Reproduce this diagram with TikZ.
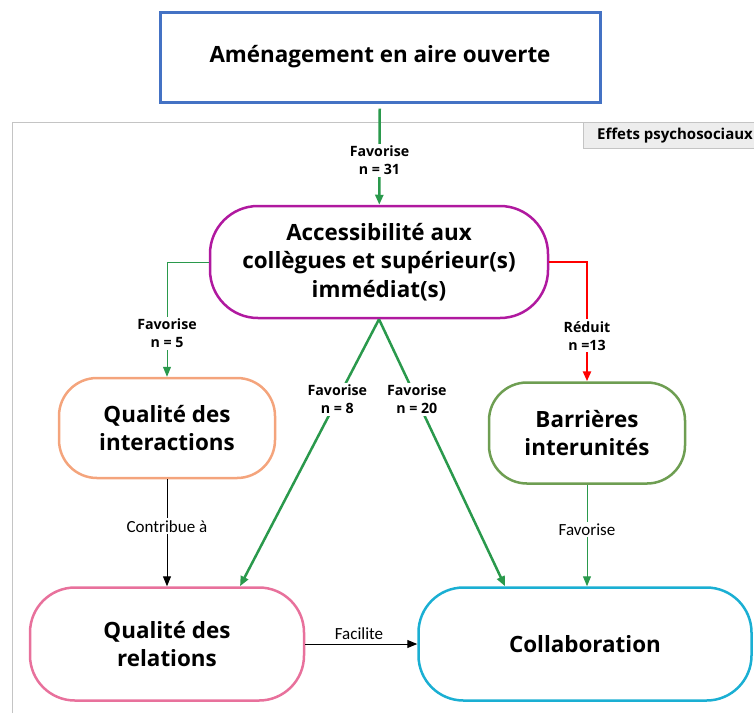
\documentclass[tikz,border=0pt]{standalone}
\usepackage{fontspec}
\setmainfont{Open Sans}
\newfontfamily\thinfont{Carlito}
\usetikzlibrary{arrows.meta}

\definecolor{amenblue}{HTML}{4472C4}
\definecolor{accpurple}{HTML}{B0199F}
\definecolor{interorange}{HTML}{F4A47C}
\definecolor{barrgreen}{HTML}{6E9E52}
\definecolor{relpink}{HTML}{E8719C}
\definecolor{collabcyan}{HTML}{1AAFD3}
\definecolor{linkgreen}{HTML}{2A994C}
\definecolor{framegray}{HTML}{C4C4C4}

\begin{document}
\begin{tikzpicture}[
	x=1pt, y=-1pt,
	concept/.style={draw, line width=2.5pt, align=center, font=\bfseries\fontsize{22.4}{28.5}\selectfont},
	effect/.style={fill=white, text=black, inner sep=2pt, align=center, font=\bfseries\fontsize{14.2}{18}\selectfont},
	plain/.style={fill=white, text=black, inner sep=2pt, font=\thinfont\fontsize{17}{18}\selectfont},
	tip/.style={-{Triangle[length=10pt,width=8pt]}}
	]
	\useasboundingbox (0,0) rectangle (754,713);

	% cadre des effets
	\draw[framegray, line width=1pt] (12,713) -- (12,122) -- (754,122);
	\draw[framegray, fill=black!7] (583,148) rectangle (760,122);
	\node[anchor=west, inner sep=0pt, font=\bfseries\fontsize{15}{16}\selectfont] (effets) at (597,135.5) {Effets psychosociaux};

	% les concepts
	\node[concept, draw=amenblue, line width=3pt, minimum width=440pt, minimum height=90pt] (amen) at (380,57)
		{Aménagement en aire ouverte};
	\node[concept, draw=accpurple, rounded corners=48pt, minimum width=338pt, minimum height=112pt] (access) at (379,262)
		{Accessibilité aux\\collègues et supérieur(s)\\immédiat(s)};
	\node[concept, draw=interorange, rounded corners=38pt, minimum width=216pt, minimum height=100pt] (inter) at (167,428)
		{Qualité des\\interactions};
	\node[concept, draw=barrgreen, rounded corners=38pt, minimum width=196pt, minimum height=101pt] (barr) at (587,433)
		{Barrières\\interunités};
	\node[concept, draw=relpink, rounded corners=45pt, minimum width=274pt, minimum height=113pt] (rel) at (167,644)
		{Qualité des\\relations};
	\node[concept, draw=collabcyan, rounded corners=45pt, minimum width=333pt, minimum height=113pt] (collab) at (585,644)
		{Collaboration};

	% les liens
	\draw[tip, linkgreen, line width=2.5pt, shorten <=5pt] (amen) -- (access)
		node[effect, pos=0.56] {Favorise\\n = 31};
	\draw[tip, linkgreen, line width=1pt] (access.west) -| (inter.north)
		node[effect, pos=0.81] {Favorise\\n = 5};
	\draw[tip, red, line width=2.5pt] (access.east) -| (barr.north)
		node[effect, pos=0.81] {Réduit\\n =13};
	\draw[tip, linkgreen, line width=2.5pt] (access.south) -- ([xshift=73pt]rel.north)
		node[effect, pos=0.3] {Favorise\\n = 8};
	\draw[tip, linkgreen, line width=2.5pt] (access.south) -- ([xshift=-80pt]collab.north)
		node[effect, pos=0.3] {Favorise\\n = 20};
	\draw[tip, black, line width=1pt] (inter) -- (rel)
		node[plain, pos=0.44] {Contribue à};
	\draw[tip, linkgreen, line width=1pt] (barr.south) -- (barr.south |- collab.north)
		node[plain, pos=0.44] {Favorise};
	\draw[tip, black, line width=1pt] (rel.east) -- (collab.west)
		node[plain, above=2pt, fill=none, pos=0.48] {Facilite};
\end{tikzpicture}
\end{document}
